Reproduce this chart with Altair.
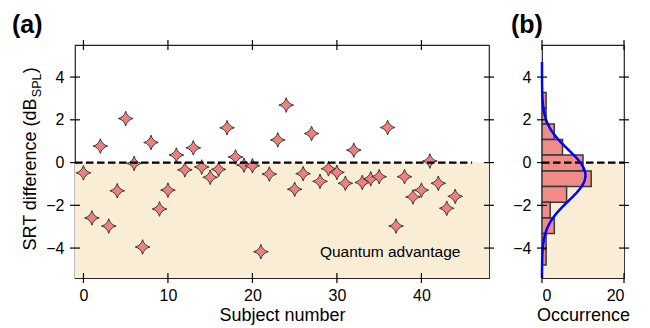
import altair as alt
import pandas as pd

# ---------------- data ----------------
subjects = list(range(45))
srt_diff = [-0.48, -2.59, 0.77, -2.97, -1.32, 2.06, -0.04, -3.95, 0.94, -2.17,
            -1.29, 0.35, -0.34, 0.69, -0.21, -0.69, -0.32, 1.63, 0.26, -0.12,
            -0.15, -4.17, -0.54, 1.06, 2.69, -1.25, -0.52, 1.36, -0.88, -0.29,
            -0.46, -0.97, 0.58, -0.93, -0.76, -0.66, 1.64, -2.97, -0.66, -1.61,
            -1.29, 0.07, -0.97, -2.14, -1.58]

bin_lo = [2.55, 1.81, 1.08, 0.35, -0.39, -1.12, -1.86, -2.59, -3.32, -4.06, -4.79]
bin_hi = [3.28, 2.55, 1.81, 1.08, 0.35, -0.39, -1.12, -1.86, -2.59, -3.32, -4.06]
bin_count = [1, 1, 3, 5, 10, 12, 6, 2, 3, 1, 1]

fit_amp = 10.6
fit_mean = -0.6
fit_sigma = 1.2
curve_range = [-5.4, 4.7]

y_ticks = [-4, -2, 0, 2, 4]
x_ticks_a = [0, 10, 20, 30, 40]
x_ticks_b = [0, 20]
y_domain = [-5.4, 5.5]
x_domain_a = [-1, 48]
x_domain_b = [0, 20]
zero_line_a = [-1, 46]
shade_top = 0
annot_pos = [36.3, -4.43]

# ---------------- styling ----------------
W_A, W_B, H = 414, 82, 233
FONT = "Liberation Sans"
SHADE = "#FAEDD6"
CORAL = "#F08080"
EDGE = "#3a3a3a"
TITLE_FS = 18
SUB_FS = 12.6
LABEL_FS = 16
STAR = "M0,-1 Q0.2,-0.2 1,0 Q0.2,0.2 0,1 Q-0.2,0.2 -1,0 Q-0.2,-0.2 0,-1 Z"
MINUS = "replace(datum.label, '-', '\u2212')"

ysc = alt.Scale(domain=y_domain, nice=False, zero=False)
xsa = alt.Scale(domain=x_domain_a, nice=False, zero=False)
xsb = alt.Scale(domain=x_domain_b, nice=False, zero=False)


def yaxis():
    return alt.Axis(values=y_ticks, title=None, labelExpr=MINUS, ticks=False,
                    domain=False, grid=False, labelPadding=11,
                    labelFontSize=LABEL_FS, labelFont=FONT, labelColor="black")


def xaxis(vals, title):
    return alt.Axis(values=vals, title=title, labelExpr=MINUS, ticks=False,
                    domain=False, grid=False, labelPadding=9,
                    labelFontSize=LABEL_FS, labelFont=FONT, labelColor="black",
                    titleFontSize=TITLE_FS, titleFont=FONT, titleFontWeight="normal",
                    titleColor="black", titlePadding=3)


XA = xaxis(x_ticks_a, "Subject number")
XB = xaxis(x_ticks_b, "Occurrence")
YA = yaxis()


def tick_rules(xticks, xscale, xax, width):
    yt = pd.DataFrame({"v": y_ticks})
    xt = pd.DataFrame({"v": xticks})
    base_y = alt.Chart(yt).mark_rule(color="black", strokeWidth=1.2)
    base_x = alt.Chart(xt).mark_rule(color="black", strokeWidth=1.2)
    left = base_y.encode(y=alt.Y("v:Q", scale=ysc, axis=YA),
                         x=alt.value(-5), x2=alt.value(5))
    right = base_y.encode(y=alt.Y("v:Q", scale=ysc, axis=YA),
                          x=alt.value(width - 5), x2=alt.value(width + 5))
    bottom = base_x.encode(x=alt.X("v:Q", scale=xscale, axis=xax),
                           y=alt.value(H - 5), y2=alt.value(H + 5))
    top = base_x.encode(x=alt.X("v:Q", scale=xscale, axis=xax),
                        y=alt.value(-5), y2=alt.value(5))
    return [left, right, bottom, top]


def shade(width):
    df = pd.DataFrame({"top": [shade_top], "bottom": [y_domain[0]]})
    return alt.Chart(df).mark_rect(color=SHADE).encode(
        y=alt.Y("top:Q", scale=ysc, axis=YA), y2="bottom:Q",
        x=alt.value(0), x2=alt.value(width))


# ---------------- panel (a) ----------------
pts = pd.DataFrame({"subject": subjects, "diff": srt_diff})
points = alt.Chart(pts).mark_point(
    shape=STAR, filled=True, fill=CORAL, stroke=EDGE, strokeWidth=1,
    size=215, opacity=1, fillOpacity=1).encode(
    x=alt.X("subject:Q", scale=xsa, axis=XA),
    y=alt.Y("diff:Q", scale=ysc, axis=YA))

zl_a = alt.Chart(pd.DataFrame({"x": [zero_line_a[0]], "x2": [zero_line_a[1]], "y": [0]})
                 ).mark_rule(color="black", strokeWidth=2.2, strokeDash=[7.5, 3.5]).encode(
    x=alt.X("x:Q", scale=xsa, axis=XA), x2="x2:Q",
    y=alt.Y("y:Q", scale=ysc, axis=YA))

annot = alt.Chart(pd.DataFrame({"x": [annot_pos[0]], "y": [annot_pos[1]],
                                "t": ["Quantum advantage"]})).mark_text(
    font=FONT, fontSize=15.5, color="black", align="center", baseline="alphabetic").encode(
    x=alt.X("x:Q", scale=xsa, axis=XA), y=alt.Y("y:Q", scale=ysc, axis=YA), text="t:N")

lab_a = alt.Chart(pd.DataFrame({"t": ["(a)"]})).mark_text(
    font=FONT, fontSize=25, fontWeight="bold", align="left", baseline="alphabetic",
    color="black").encode(x=alt.value(-63), y=alt.value(-12), text="t:N")

# composed y title: SRT difference (dB_SPL)
ytitle_parts = ["SRT difference (dB", "SPL", ")"]
yt_main = alt.Chart(pd.DataFrame({"t": [ytitle_parts[0]]})).mark_text(
    font=FONT, fontSize=TITLE_FS, angle=270, align="left", baseline="alphabetic",
    color="black").encode(x=alt.value(-39), y=alt.value(205.5), text="t:N")
yt_sub = alt.Chart(pd.DataFrame({"t": [ytitle_parts[1]]})).mark_text(
    font=FONT, fontSize=SUB_FS, angle=270, align="left", baseline="alphabetic",
    color="black").encode(x=alt.value(-34), y=alt.value(52.2), text="t:N")
yt_close = alt.Chart(pd.DataFrame({"t": [ytitle_parts[2]]})).mark_text(
    font=FONT, fontSize=TITLE_FS, angle=270, align="left", baseline="alphabetic",
    color="black").encode(x=alt.value(-39), y=alt.value(28.3), text="t:N")

panel_a = alt.layer(shade(W_A), points, zl_a, annot, lab_a, yt_main, yt_sub, yt_close,
                    *tick_rules(x_ticks_a, xsa, XA, W_A)).properties(width=W_A, height=H)

# ---------------- panel (b) ----------------
hist = pd.DataFrame({"lo": bin_lo, "hi": bin_hi, "n": bin_count})
bars = alt.Chart(hist).mark_bar(fill=CORAL, fillOpacity=0.9, stroke=EDGE,
                                strokeWidth=1.5).encode(
    x=alt.X("n:Q", scale=xsb, axis=XB), x2=alt.datum(0),
    y=alt.Y("lo:Q", scale=ysc, axis=YA), y2="hi:Q")

zl_b = alt.Chart(pd.DataFrame({"x": [x_domain_b[0]], "x2": [x_domain_b[1]], "y": [0]})
                 ).mark_rule(color="black", strokeWidth=2.2, strokeDash=[7.5, 3.5]).encode(
    x=alt.X("x:Q", scale=xsb, axis=XB), x2="x2:Q",
    y=alt.Y("y:Q", scale=ysc, axis=YA))

curve = alt.Chart(alt.sequence(curve_range[0], curve_range[1] + 0.001, 0.05, as_="v")
                  ).transform_calculate(
    occ=f"{fit_amp}*exp(-pow(datum.v - ({fit_mean}), 2)/(2*{fit_sigma}*{fit_sigma}))"
).mark_line(color="#0000ff", strokeWidth=2.5).encode(
    x=alt.X("occ:Q", scale=xsb, axis=XB),
    y=alt.Y("v:Q", scale=ysc, axis=YA),
    order=alt.Order("v:Q"))

lab_b = alt.Chart(pd.DataFrame({"t": ["(b)"]})).mark_text(
    font=FONT, fontSize=25, fontWeight="bold", align="left", baseline="alphabetic",
    color="black").encode(x=alt.value(-31), y=alt.value(-12), text="t:N")

panel_b = alt.layer(shade(W_B), bars, zl_b, curve, lab_b,
                    *tick_rules(x_ticks_b, xsb, XB, W_B)).properties(width=W_B, height=H)

chart = alt.hconcat(panel_a, panel_b, spacing=14).configure_view(
    stroke="#222222", strokeWidth=1.2).properties(
    padding={"left": 3, "top": 4, "right": 0, "bottom": 0}, background="white")

chart.save("out.html", embed_options={"renderer": "svg", "actions": False})
